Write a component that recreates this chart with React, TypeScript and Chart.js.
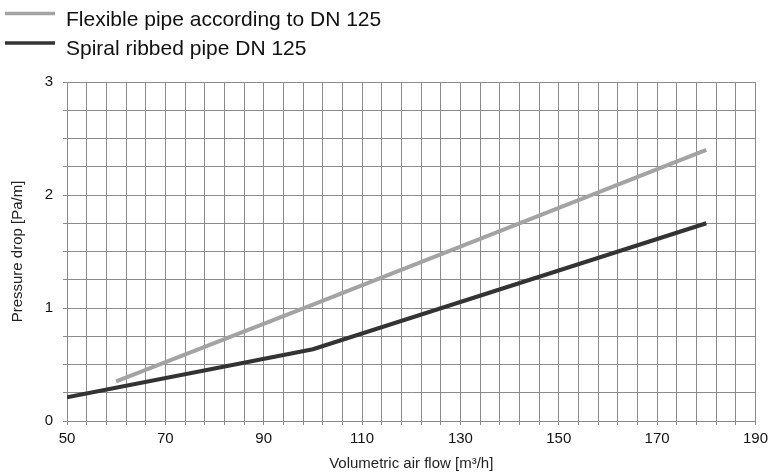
import { useEffect, useRef } from "react";
import { Chart, registerables } from "chart.js";

Chart.register(...registerables);

// Data
const flexX = [60, 100, 180];
const flexY = [0.35, 1.03, 2.4];
const spiralX = [50, 100, 180];
const spiralY = [0.21, 0.635, 1.75];

const seriesNames = ["Flexible pipe according to DN 125", "Spiral ribbed pipe DN 125"];
const seriesColors = ["#a3a3a3", "#333333"];

const xLabelTicks = [50, 70, 90, 110, 130, 150, 170, 190];
const yLabelTicks = [0, 1, 2, 3];

const FONT = "'Liberation Sans', Arial, Helvetica, sans-serif";

const legendPlugin = {
  id: "customLegend",
  afterDraw(chart: any) {
    const ctx = chart.ctx as CanvasRenderingContext2D;
    const rows = [
      { lineY: 13.5, textY: 26 },
      { lineY: 43, textY: 55 },
    ];
    ctx.save();
    seriesNames.forEach((name, i) => {
      const r = rows[i];
      ctx.strokeStyle = seriesColors[i];
      ctx.lineWidth = 3.5;
      ctx.beginPath();
      ctx.moveTo(5, r.lineY);
      ctx.lineTo(55, r.lineY);
      ctx.stroke();
      ctx.fillStyle = "#111111";
      ctx.font = `21px ${FONT}`;
      ctx.textBaseline = "alphabetic";
      ctx.textAlign = "left";
      ctx.fillText(name, 66, r.textY);
    });
    ctx.restore();
  },
};

export default function App() {
  const ref = useRef<HTMLCanvasElement | null>(null);

  useEffect(() => {
    document.body.style.margin = "0";
    const canvas = ref.current;
    if (!canvas) return;
    const chart = new Chart(canvas, {
      type: "line",
      data: {
        datasets: [
          {
            label: seriesNames[0],
            data: flexX.map((x, i) => ({ x, y: flexY[i] })),
            borderColor: seriesColors[0],
            borderWidth: 4,
            pointRadius: 0,
            tension: 0,
            borderCapStyle: "butt",
          },
          {
            label: seriesNames[1],
            data: spiralX.map((x, i) => ({ x, y: spiralY[i] })),
            borderColor: seriesColors[1],
            borderWidth: 4,
            pointRadius: 0,
            tension: 0,
            borderCapStyle: "butt",
          },
        ],
      },
      options: {
        animation: false,
        responsive: false,
        devicePixelRatio: 1,
        layout: { padding: { top: 82, right: 17, left: 0, bottom: 0 } },
        plugins: {
          legend: { display: false },
          tooltip: { enabled: false },
        },
        scales: {
          x: {
            type: "linear",
            min: 50,
            max: 190,
            ticks: {
              stepSize: 4,
              autoSkip: false,
              maxRotation: 0,
              padding: 5,
              color: "#111111",
              font: { family: FONT, size: 15 },
              callback: (v: any) => (xLabelTicks.includes(Number(v)) ? String(v) : ""),
            },
            grid: { color: "#8c8c8c", lineWidth: 1, tickLength: 4 },
            border: { color: "#8c8c8c" },
            title: {
              display: true,
              text: "Volumetric air flow [m³/h]",
              color: "#222222",
              font: { family: FONT, size: 15 },
              padding: { top: 0, bottom: 1 },
            },
            afterFit: (scale: any) => {
              scale.height = 53;
            },
          },
          y: {
            type: "linear",
            min: 0,
            max: 3,
            ticks: {
              stepSize: 0.25,
              autoSkip: false,
              padding: 10,
              color: "#111111",
              font: { family: FONT, size: 15 },
              callback: (v: any) => (yLabelTicks.includes(Number(v)) ? String(v) : ""),
            },
            grid: { color: "#8c8c8c", lineWidth: 1, tickLength: 4 },
            border: { color: "#8c8c8c" },
            title: {
              display: true,
              text: "Pressure drop [Pa/m]",
              color: "#222222",
              font: { family: FONT, size: 15 },
              padding: { top: 9, bottom: 0 },
            },
            afterFit: (scale: any) => {
              scale.width = 67;
            },
          },
        },
      },
      plugins: [legendPlugin],
    });
    return () => chart.destroy();
  }, []);

  return (
    <div style={{ width: 773, height: 474, background: "#ffffff" }}>
      <canvas ref={ref} width={773} height={474} style={{ display: "block" }} />
    </div>
  );
}
